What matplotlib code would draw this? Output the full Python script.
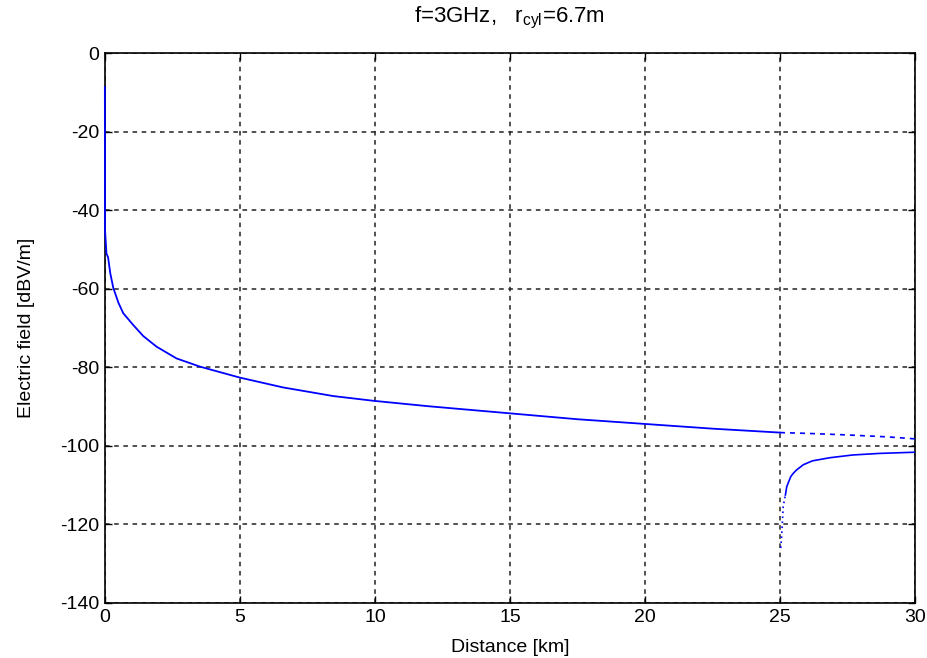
"""Champ électrique en fonction de la distance (f=3GHz, r_cyl=6.7m)."""

from __future__ import annotations

import matplotlib

matplotlib.use("Agg")
import matplotlib.pyplot as plt


OUTPUT_FILE = "out.png"

# Courbe principale (km, dBV/m)
distance_main = [0.0, 0.005, 0.06, 0.12, 0.2, 0.31, 0.5, 0.68, 1.05, 1.42, 1.91,
                 2.65, 3.52, 5.0, 6.6, 8.46, 9.94, 12.0, 15.0, 17.5, 20.0, 22.5, 25.0]
field_main = [-8.6, -45.0, -51.0, -52.0, -56.0, -59.7, -63.5, -66.2, -69.2, -72.0, -74.7,
              -77.7, -79.8, -82.6, -85.1, -87.3, -88.5, -89.9, -91.7, -93.2, -94.4, -95.6, -96.6]

# Prolongement en pointillés après 25 km
distance_dash = [25.0, 26.0, 27.5, 29.0, 30.0]
field_dash = [-96.6, -96.8, -97.2, -97.7, -98.2]

# Branche basse (début très raide en pointillé)
distance_low_start = [25.03, 25.06, 25.12, 25.2]
field_low_start = [-126.0, -123.0, -115.4, -112.5]
distance_low = [25.2, 25.25, 25.3, 25.4, 25.49, 25.6, 25.86, 26.2, 26.85, 27.7, 28.7, 30.0]
field_low = [-112.5, -110.4, -109.5, -107.8, -107.0, -106.2, -104.8, -103.8, -103.0,
             -102.3, -101.9, -101.6]

X_TICKS = [0, 5, 10, 15, 20, 25, 30]
Y_TICKS = [0, -20, -40, -60, -80, -100, -120, -140]


def tracer(output_path: str) -> None:
    """Trace la figure façon MATLAB."""
    plt.rcParams["font.family"] = ["Liberation Sans", "DejaVu Sans"]
    plt.rcParams["axes.unicode_minus"] = False
    fig = plt.figure(figsize=(9.28, 6.58), dpi=100)
    ax = fig.add_axes([0.113, 0.0836, 0.873, 0.8354])

    bleu = "#0000ff"
    # Les courbes passent au-dessus du cadre, comme sous MATLAB.
    ax.plot(distance_main, field_main, color=bleu, lw=1.3, zorder=3, clip_on=False)
    ax.plot(distance_dash, field_dash, color=bleu, lw=1.2, linestyle=(0, (3, 3)), zorder=3)
    ax.plot(distance_low_start, field_low_start, color=bleu, lw=1.2,
            linestyle=(0, (1, 2)), zorder=3)
    ax.plot(distance_low, field_low, color=bleu, lw=1.2, zorder=3)

    ax.set_xlim(0, 30)
    ax.set_ylim(-140, 0)
    ax.set_xticks(X_TICKS)
    ax.set_yticks(Y_TICKS)
    ax.tick_params(direction="in", length=5, width=1, labelsize=14,
                   top=True, right=True, pad=4)
    ax.grid(True, color="#222222", linestyle=(0, (3, 3)), linewidth=1.1)
    for spine in ax.spines.values():
        spine.set_linewidth(1.2)

    ax.set_xlabel("Distance [km]", fontsize=14, labelpad=10)
    ax.set_ylabel("Electric field [dBV/m]", fontsize=14, labelpad=18)
    ax.set_title("f=3GHz,   r$_{\\mathregular{cyl}}$=6.7m", fontsize=16, pad=22)

    fig.savefig(output_path, dpi=100)
    plt.close(fig)


def main() -> None:
    tracer(OUTPUT_FILE)


if __name__ == "__main__":
    main()
